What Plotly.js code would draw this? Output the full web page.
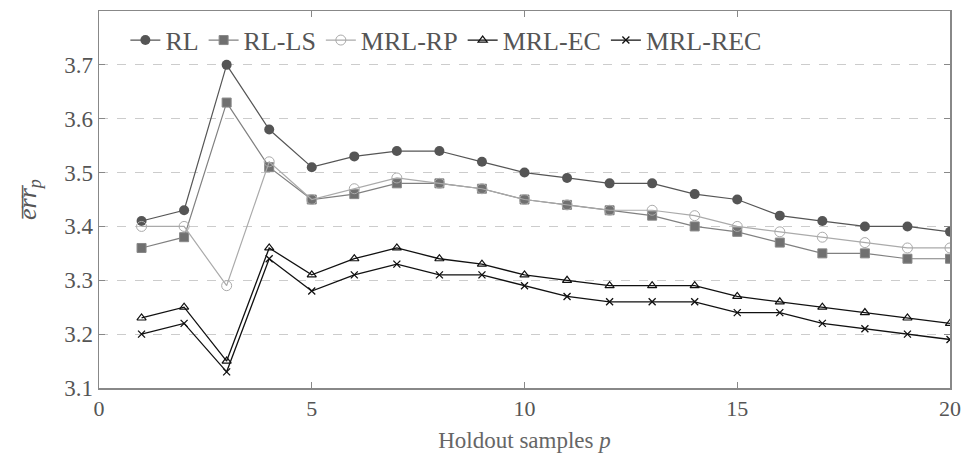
<!DOCTYPE html>
<html><head><meta charset="utf-8">
<script src="https://cdn.plot.ly/plotly-3.0.1.min.js"></script>
<style>html,body{margin:0;padding:0;background:#fff}</style>
</head><body><div id="chart" style="width:961px;height:459px"></div>
<script>
const p = [1,2,3,4,5,6,7,8,9,10,11,12,13,14,15,16,17,18,19,20];
const RL     = [3.41,3.43,3.70,3.58,3.51,3.53,3.54,3.54,3.52,3.50,3.49,3.48,3.48,3.46,3.45,3.42,3.41,3.40,3.40,3.39];
const RL_LS  = [3.36,3.38,3.63,3.51,3.45,3.46,3.48,3.48,3.47,3.45,3.44,3.43,3.42,3.40,3.39,3.37,3.35,3.35,3.34,3.34];
const MRL_RP = [3.40,3.40,3.29,3.52,3.45,3.47,3.49,3.48,3.47,3.45,3.44,3.43,3.43,3.42,3.40,3.39,3.38,3.37,3.36,3.36];
const MRL_EC = [3.23,3.25,3.15,3.36,3.31,3.34,3.36,3.34,3.33,3.31,3.30,3.29,3.29,3.29,3.27,3.26,3.25,3.24,3.23,3.22];
const MRL_REC= [3.20,3.22,3.13,3.34,3.28,3.31,3.33,3.31,3.31,3.29,3.27,3.26,3.26,3.26,3.24,3.24,3.22,3.21,3.20,3.19];
const names = ['RL','RL-LS','MRL-RP','MRL-EC','MRL-REC'];
const xTicks = [0,5,10,15,20];
const yTicks = [3.1,3.2,3.3,3.4,3.5,3.6,3.7];

const traces = [
  {x:p,y:RL,name:names[0],mode:'lines+markers',line:{color:'#555',width:1.2},
   marker:{symbol:'circle',size:10,color:'#555'}},
  {x:p,y:RL_LS,name:names[1],mode:'lines+markers',line:{color:'#808080',width:1.2},
   marker:{symbol:'square',size:9,color:'#707070',line:{color:'#888',width:1}}},
  {x:p,y:MRL_RP,name:names[2],mode:'lines+markers',line:{color:'#aaa',width:1.2},
   marker:{symbol:'circle-open',size:10,color:'#aaa',line:{width:1}}},
  {x:p,y:MRL_EC,name:names[3],mode:'lines+markers',line:{color:'#111',width:1.3},
   marker:{symbol:'triangle-up-open',size:8,color:'#111',line:{width:1.2}}},
  {x:p,y:MRL_REC,name:names[4],mode:'lines+markers',line:{color:'#111',width:1.3},
   marker:{symbol:'x-thin-open',size:7,color:'#111',line:{width:1.3}}}
];
const FAM = 'Liberation Serif, DejaVu Serif, serif';
const font = {family:FAM,color:'#555',size:22};
const layout = {
  width:961,height:459,
  margin:{l:99,r:11,t:11,b:71},
  paper_bgcolor:'#fff',plot_bgcolor:'#fff',
  font:font,
  showlegend:true,
  legend:{orientation:'h',x:0.031,y:0.985,xanchor:'left',yanchor:'top',
    bgcolor:'rgba(0,0,0,0)',font:{family:FAM,size:26,color:'#555'},
    itemwidth:30,tracegroupgap:0},
  xaxis:{range:[0,20],tickvals:xTicks,ticktext:xTicks.map(String),ticklabeloverflow:'allow',
    showline:true,linecolor:'#888',linewidth:1.5,mirror:'allticks',
    ticks:'inside',ticklen:6,tickcolor:'#888',showgrid:false,zeroline:false,
    tickfont:{family:FAM,size:22,color:'#555'},
    title:{text:'Holdout samples <i>p</i>',font:{family:FAM,size:23,color:'#666'},standoff:12}},
  yaxis:{range:[3.1,3.8],tickvals:yTicks,ticktext:yTicks.map(v=>v.toFixed(1)),
    showline:true,linecolor:'#888',linewidth:1.5,mirror:'allticks',
    ticks:'inside',ticklen:6,tickcolor:'#888',
    showgrid:true,gridcolor:'#ccc',griddash:'dash',gridwidth:1,zeroline:false,
    tickfont:{family:FAM,size:23,color:'#555'},
    title:{text:'<i>e\u0305r\u0305r\u0305</i><sub><i>p</i></sub>',font:{family:FAM,size:26,color:'#555'},standoff:20}}
};
Plotly.newPlot('chart',traces,layout,{displayModeBar:false,staticPlot:true});
</script></body></html>
